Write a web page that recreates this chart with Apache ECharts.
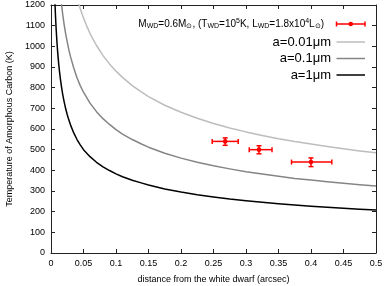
<!DOCTYPE html>
<html><head><meta charset="utf-8">
<script src="https://cdn.jsdelivr.net/npm/echarts@6/dist/echarts.min.js"></script>
<style>html,body{margin:0;padding:0;background:#fff}#c{width:385px;height:286px}</style>
</head><body><div id="c"></div>
<script>
// ---- data ----
const lightD = [0.04, 0.045, 0.05, 0.055, 0.06, 0.065, 0.07, 0.08, 0.09, 0.1, 0.11, 0.125, 0.14, 0.15, 0.175, 0.2, 0.225, 0.25, 0.275, 0.3, 0.325, 0.35, 0.375, 0.4, 0.425, 0.45, 0.475, 0.5];
const lightT = [1235, 1182, 1137, 1098, 1063, 1032, 1004, 955, 915, 880, 850, 810, 777, 757, 715, 681, 652, 627, 605, 586, 569, 553, 539, 527, 515, 504, 494, 485];
const midD = [0.014, 0.016, 0.018, 0.02, 0.0225, 0.025, 0.0275, 0.03, 0.035, 0.04, 0.045, 0.05, 0.06, 0.07, 0.08, 0.09, 0.1, 0.11, 0.125, 0.14, 0.15, 0.175, 0.2, 0.225, 0.25, 0.275, 0.3, 0.325, 0.35, 0.375, 0.4, 0.425, 0.45, 0.475, 0.5];
const midT = [1270, 1210, 1155, 1110, 1062, 1020, 983, 950, 895, 848, 810, 778, 725, 684, 650, 622, 597, 575, 549, 526, 512, 483, 459, 439, 422, 407, 393, 382, 371, 361, 353, 345, 337, 330, 324];
const blackD = [0.005, 0.0055, 0.006, 0.0065, 0.007, 0.0075, 0.008, 0.009, 0.01, 0.011, 0.012, 0.013, 0.0145, 0.016, 0.018, 0.02, 0.0225, 0.025, 0.0275, 0.03, 0.035, 0.04, 0.045, 0.05, 0.06, 0.07, 0.08, 0.09, 0.1, 0.11, 0.125, 0.14, 0.15, 0.175, 0.2, 0.225, 0.25, 0.275, 0.3, 0.325, 0.35, 0.375, 0.4, 0.425, 0.45, 0.475, 0.5];
const blackT = [1310, 1264, 1218, 1178, 1142, 1109, 1080, 1028, 983, 944, 911, 880, 841, 807, 768, 735, 699, 669, 643, 620, 581, 549, 523, 500, 466, 439, 417, 399, 383, 369, 352, 338, 329, 310, 295, 282, 271, 261, 253, 245, 238, 232, 226, 221, 216, 212, 208];
// observed points: distance, temperature, x-low, x-high, T-low, T-high
const obsD = [0.268, 0.320, 0.400];
const obsT = [540, 500, 440];
const obsDlo = [0.248, 0.305, 0.370];
const obsDhi = [0.288, 0.340, 0.432];
const obsTlo = [521, 480, 418];
const obsThi = [557, 519, 460];
const seriesNames = ['obs', 'a=0.01μm', 'a=0.1μm', 'a=1μm'];
// ---------------------------------------

const pairs = (xs, ys) => xs.map((x, i) => [x, ys[i]]);
const obsData = obsD.map((d, i) => [d, obsT[i], obsDlo[i], obsDhi[i], obsTlo[i], obsThi[i]]);
const FONT = 'Liberation Sans';
const RED = '#ff0000';

const chart = echarts.init(document.getElementById('c'), null, {renderer: 'canvas'});

const axisCommon = {
  axisLine: {show: true, onZero: false, lineStyle: {color: '#222', width: 1}},
  axisTick: {show: true, inside: true, length: 4, lineStyle: {color: '#222', width: 1}},
  splitLine: {show: false}
};

function errRender(params, api) {
  const x = api.value(0), y = api.value(1);
  const c = api.coord([x, y]);
  const xl = api.coord([api.value(2), y]);
  const xh = api.coord([api.value(3), y]);
  const yl = api.coord([x, api.value(4)]);
  const yh = api.coord([x, api.value(5)]);
  const st = {stroke: RED, lineWidth: 1.5};
  const cap = 2.5;
  const ln = (x1, y1, x2, y2) => ({type: 'line', shape: {x1, y1, x2, y2}, style: st});
  return {type: 'group', children: [
    ln(xl[0], c[1], xh[0], c[1]),
    ln(xl[0], c[1] - cap, xl[0], c[1] + cap),
    ln(xh[0], c[1] - cap, xh[0], c[1] + cap),
    ln(c[0], yl[1], c[0], yh[1]),
    ln(c[0] - cap, yl[1], c[0] + cap, yl[1]),
    ln(c[0] - cap, yh[1], c[0] + cap, yh[1]),
    {type: 'circle', shape: {cx: c[0], cy: c[1], r: 2.3}, style: {fill: RED}}
  ]};
}

const sub = {fontSize: 7, fontFamily: FONT, lineHeight: 7, padding: [5, 0, 0, 0], fill: '#000'};
const sup = {fontSize: 7, fontFamily: FONT, lineHeight: 7, padding: [0, 0, 5, 0], fill: '#000'};
const legX = 336.5, legX2 = 365, txtR = 331;
const legendY = [24, 42, 58.5, 75];
const lineColors = ['#bdbdbd', '#858585', '#000000'];

const graphics = [
  {type: 'text', x: 324, y: legendY[0],
   style: {text: 'M{s|WD}=0.6M{s|⊙}, (T{s|WD}=10{p|5}K, L{s|WD}=1.8x10{p|4}L{s|⊙})',
     font: '10px ' + FONT, fill: '#000', lineHeight: 14, align: 'right', verticalAlign: 'middle',
     rich: {s: sub, p: sup}}},
  {type: 'line', shape: {x1: legX, y1: legendY[0], x2: legX2, y2: legendY[0]}, style: {stroke: RED, lineWidth: 1.5}},
  {type: 'line', shape: {x1: legX, y1: legendY[0] - 2.5, x2: legX, y2: legendY[0] + 2.5}, style: {stroke: RED, lineWidth: 1.5}},
  {type: 'line', shape: {x1: legX2, y1: legendY[0] - 2.5, x2: legX2, y2: legendY[0] + 2.5}, style: {stroke: RED, lineWidth: 1.5}},
  {type: 'circle', shape: {cx: (legX + legX2) / 2, cy: legendY[0], r: 2.3}, style: {fill: RED}}
];
for (let i = 0; i < 3; i++) {
  graphics.push({type: 'text', x: txtR, y: legendY[i + 1],
    style: {text: seriesNames[i + 1], font: '13px ' + FONT, fill: '#000', align: 'right', verticalAlign: 'middle'}});
  graphics.push({type: 'line', shape: {x1: legX, y1: legendY[i + 1], x2: legX2, y2: legendY[i + 1]},
    style: {stroke: lineColors[i], lineWidth: 1.5}});
}

const lineSeries = (name, d, t, color) => ({
  name, type: 'line', data: pairs(d, t), smooth: false, showSymbol: false, clip: true,
  lineStyle: {color, width: 1.5, join: 'round'}, itemStyle: {color}
});

chart.setOption({
  animation: false,
  textStyle: {fontFamily: FONT},
  grid: {left: 51, right: 9, top: 5, bottom: 33, show: false, containLabel: false, outerBoundsMode: 'none'},
  xAxis: [
    Object.assign({type: 'value', min: 0, max: 0.5, interval: 0.05, position: 'bottom',
      name: 'distance from the white dwarf (arcsec)', nameLocation: 'middle', nameGap: 22,
      nameTextStyle: {fontSize: 9, color: '#000', fontFamily: FONT},
      axisLabel: {fontSize: 9, color: '#000', margin: 6, fontFamily: FONT,
        formatter: v => String(+v.toFixed(2))}}, axisCommon),
    Object.assign({type: 'value', min: 0, max: 0.5, interval: 0.05, position: 'top',
      axisLabel: {show: false}}, axisCommon)
  ],
  yAxis: [
    Object.assign({type: 'value', min: 0, max: 1200, interval: 100, position: 'left',
      name: 'Temperature of Amorphous Carbon (K)', nameLocation: 'middle', nameGap: 37, nameRotate: 90,
      nameTextStyle: {fontSize: 9, color: '#000', fontFamily: FONT},
      axisLabel: {fontSize: 9, color: '#000', margin: 6, fontFamily: FONT, formatter: v => String(v)}}, axisCommon),
    Object.assign({type: 'value', min: 0, max: 1200, interval: 100, position: 'right',
      axisLabel: {show: false}}, axisCommon)
  ],
  series: [
    lineSeries(seriesNames[1], lightD, lightT, lineColors[0]),
    lineSeries(seriesNames[2], midD, midT, lineColors[1]),
    lineSeries(seriesNames[3], blackD, blackT, lineColors[2]),
    {name: seriesNames[0], type: 'custom', data: obsData, renderItem: errRender, clip: true, z: 5}
  ],
  graphic: graphics
});
</script></body></html>
